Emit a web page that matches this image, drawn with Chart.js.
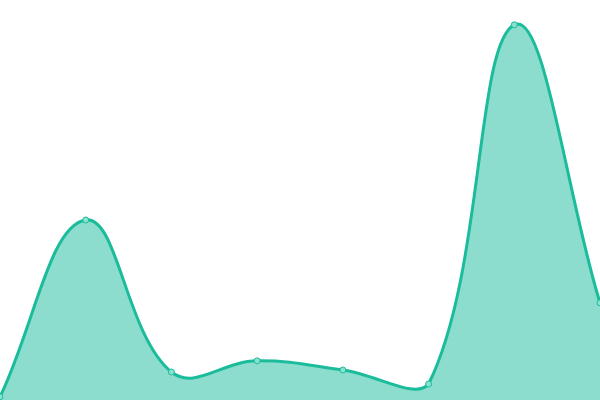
<!DOCTYPE html>
<html>
<head>
<meta charset="utf-8">
<script src="https://cdn.jsdelivr.net/npm/chart.js@4"></script>
<style>
  html, body { margin: 0; padding: 0; background: #fff; }
  #wrap { width: 600px; height: 400px; }
</style>
</head>
<body>
<div id="wrap"><canvas id="grafico"></canvas></div>
<script>
// dados
const labels = ['1', '2', '3', '4', '5', '6', '7', '8'];
const valores = [0.8, 45, 7, 9.8, 7.5, 4, 93.8, 24.3];

const ctx = document.getElementById('grafico');
new Chart(ctx, {
    type: 'line',
    data: {
        labels: labels,
        datasets: [{
            data: valores,
            borderColor: '#1abc9c',
            backgroundColor: 'rgba(26,188,156,0.5)',
            pointBackgroundColor: 'rgba(140,224,207,1)',
            pointBorderColor: '#1abc9c',
            pointBorderWidth: 1,
            pointRadius: 3,
            borderWidth: 3,
            fill: true,
            tension: 0.4
        }]
    },
    options: {
        responsive: true,
        maintainAspectRatio: false,
        animation: false,
        layout: { padding: 0, autoPadding: false },
        plugins: { legend: { display: false }, tooltip: { enabled: false } },
        scales: {
            x: { display: false, offset: false },
            y: { display: false, min: 0, max: 100 }
        }
    }
});
</script>
</body>
</html>
